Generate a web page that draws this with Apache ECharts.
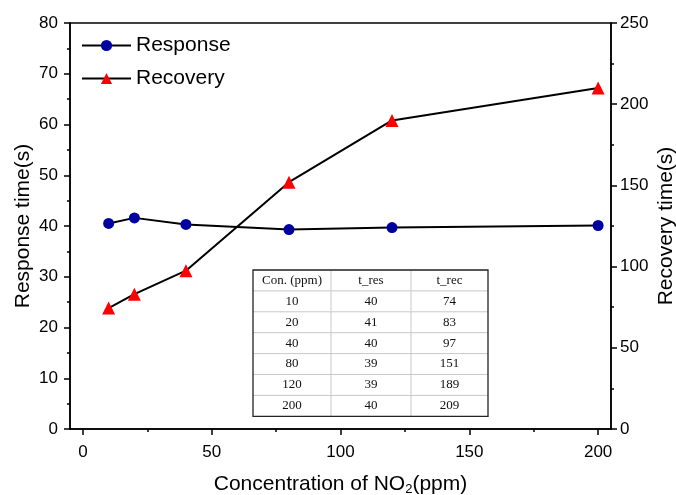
<!DOCTYPE html>
<html>
<head>
<meta charset="UTF-8">
<title>NO2 response / recovery</title>
<script src="https://cdn.jsdelivr.net/npm/echarts@6/dist/echarts.min.js"></script>
</head>
<body style="margin:0">
<div id="main" style="width:676px;height:495px;"></div>
<script>
// data
var conc = [10, 20, 40, 80, 120, 200];
var responseTime = [40.5, 41.6, 40.3, 39.3, 39.7, 40.1];
var recoveryTime = [74.5, 83, 97.5, 152, 190, 210];

// inset table
var tableHeader = ['Con. (ppm)', 't_res', 't_rec'];
var tableRes = [40, 41, 40, 39, 39, 40];
var tableRec = [74, 83, 97, 151, 189, 209];

var xMajor = [0, 50, 100, 150, 200];
var xMinor = [25, 75, 125, 175];

var font = 'Liberation Sans, Arial, sans-serif';

function pairs(xs, ys) {
  return xs.map(function (x, i) { return [x, ys[i]]; });
}

// table drawn as graphic
function buildTable() {
  var left = 253, top = 270, colW = [78, 80, 77], rowH = 20.9;
  var rows = [tableHeader].concat(conc.map(function (c, i) {
    return [String(c), String(tableRes[i]), String(tableRec[i])];
  }));
  var totalW = colW[0] + colW[1] + colW[2];
  var totalH = rowH * rows.length;
  var kids = [];
  kids.push({ type: 'rect', shape: { x: left, y: top, width: totalW, height: totalH },
    style: { fill: '#fff', stroke: 'none' }, z: 1 });
  for (var r = 1; r < rows.length; r++) {
    kids.push({ type: 'line', shape: { x1: left, y1: top + r * rowH, x2: left + totalW, y2: top + r * rowH },
      style: { stroke: '#c8c8c8', lineWidth: 1 }, z: 2 });
  }
  var cx = left;
  for (var c = 0; c < 2; c++) {
    cx += colW[c];
    kids.push({ type: 'line', shape: { x1: cx, y1: top, x2: cx, y2: top + totalH },
      style: { stroke: '#c8c8c8', lineWidth: 1 }, z: 2 });
  }
  kids.push({ type: 'rect', shape: { x: left, y: top, width: totalW, height: totalH },
    style: { fill: 'none', stroke: '#222', lineWidth: 1.3 }, z: 3 });
  rows.forEach(function (row, ri) {
    var x0 = left;
    row.forEach(function (txt, ci) {
      kids.push({ type: 'text', z: 4,
        style: { text: txt, x: x0 + colW[ci] / 2, y: top + ri * rowH + rowH / 2,
          align: 'center', verticalAlign: 'middle',
          font: '13px "Liberation Serif", "Times New Roman", serif', fill: '#111' } });
      x0 += colW[ci];
    });
  });
  return kids;
}

var chart = echarts.init(document.getElementById('main'));
var option = {
  animation: false,
  backgroundColor: '#fff',
  grid: { left: 70, right: 65, top: 23, bottom: 66, containLabel: false, outerBoundsMode: 'none',
    show: true, borderColor: '#000', borderWidth: 1.5, backgroundColor: 'transparent' },
  legend: {
    left: 81, top: 35, padding: 0, orient: 'vertical', itemGap: 12, itemWidth: 49, itemHeight: 14,
    textStyle: { fontFamily: font, fontSize: 21, color: '#000' },
    data: ['Response', 'Recovery']
  },
  xAxis: [{
    type: 'value', min: -5, max: 205,
    name: 'Concentration of NO{sub|2}(ppm)', nameLocation: 'middle', nameGap: 43, nameMoveOverlap: false,
    nameTextStyle: { fontFamily: font, fontSize: 21, color: '#000',
      rich: { sub: { fontFamily: font, fontSize: 13, color: '#000', verticalAlign: 'bottom', padding: [11, 0, 0, 0] } } },
    axisLine: { onZero: false, lineStyle: { color: '#000', width: 1.5 } },
    axisTick: { customValues: xMajor, length: 6, lineStyle: { color: '#000', width: 1.5 } },
    axisLabel: { customValues: xMajor, margin: 15, fontFamily: font, fontSize: 17, color: '#000' },
    splitLine: { show: false }
  }, {
    type: 'value', min: -5, max: 205, position: 'bottom',
    axisLine: { show: false, onZero: false },
    axisTick: { customValues: xMinor, length: 3, lineStyle: { color: '#000', width: 1.5 } },
    axisLabel: { show: false },
    splitLine: { show: false }
  }],
  yAxis: [{
    type: 'value', min: 0, max: 80, interval: 10, position: 'left',
    name: 'Response time(s)', nameLocation: 'middle', nameGap: 36, nameRotate: 90, nameMoveOverlap: false,
    nameTextStyle: { fontFamily: font, fontSize: 21, color: '#000' },
    axisLine: { show: true, onZero: false, lineStyle: { color: '#000', width: 1.5 } },
    axisTick: { show: true, length: 6, lineStyle: { color: '#000', width: 1.5 } },
    minorTick: { show: true, splitNumber: 2, length: 3, lineStyle: { color: '#000', width: 1.5 } },
    axisLabel: { margin: 12, fontFamily: font, fontSize: 17, color: '#000' },
    splitLine: { show: false }
  }, {
    type: 'value', min: 0, max: 250, interval: 50, position: 'right',
    name: 'Recovery time(s)', nameLocation: 'middle', nameGap: 45, nameRotate: 90, nameMoveOverlap: false,
    nameTextStyle: { fontFamily: font, fontSize: 21, color: '#000' },
    axisLine: { show: true, onZero: false, lineStyle: { color: '#000', width: 1.5 } },
    axisTick: { show: true, length: 6, lineStyle: { color: '#000', width: 1.5 } },
    minorTick: { show: true, splitNumber: 2, length: 3, lineStyle: { color: '#000', width: 1.5 } },
    axisLabel: { margin: 9, fontFamily: font, fontSize: 17, color: '#000' },
    splitLine: { show: false }
  }],
  series: [{
    name: 'Response', type: 'line', xAxisIndex: 0, yAxisIndex: 0,
    data: pairs(conc, responseTime),
    symbol: 'circle', symbolSize: 11,
    itemStyle: { color: '#0000a0' },
    lineStyle: { color: '#000', width: 2 },
    z: 5
  }, {
    name: 'Recovery', type: 'line', xAxisIndex: 0, yAxisIndex: 1,
    data: pairs(conc, recoveryTime),
    symbol: 'triangle', symbolSize: 13,
    itemStyle: { color: '#ff0000' },
    lineStyle: { color: '#000', width: 2 },
    z: 5
  }],
  graphic: buildTable()
};
chart.setOption(option);
</script>
</body>
</html>
